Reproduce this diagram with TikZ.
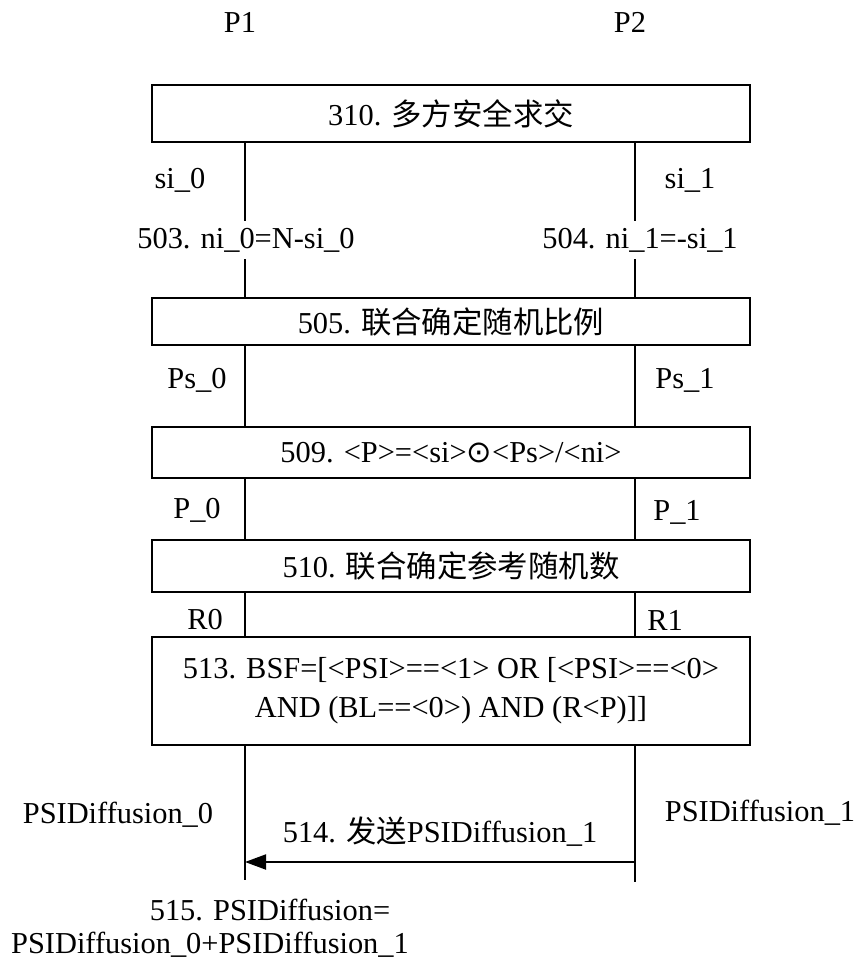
\documentclass[tikz,border=0pt]{standalone}
\usepackage{fontspec}
\setmainfont{Liberation Serif}
\newfontfamily\cjk{Noto Sans CJK SC}
\newfontfamily\symf{DejaVu Sans}
\usetikzlibrary{arrows.meta, positioning}

\begin{document}
\begin{tikzpicture}[x=0.02cm, y=-0.02cm, font=\fontsize{17.3}{22}\selectfont]
    % styles
    \tikzstyle{stepbox} = [rectangle, draw=black, line width=1.3pt, minimum width=11.96cm, text centered, inner sep=0pt]
    \tikzstyle{lifeline} = [line width=1.1pt]
    \tikzstyle{lbl} = [inner sep=2pt]
    \tikzstyle{msg} = [line width=1.1pt, -{Triangle[length=0.42cm, width=0.3cm]}]

    \useasboundingbox (0,0) rectangle (866,969);

    % parties
    \node (p1) [lbl] at (240,22) {P1};
    \node (p2) [lbl] at (630,22) {P2};
    \coordinate (xl) at (245,0);
    \coordinate (xr) at (635,0);

    % boxes
    \node (b310) [stepbox, minimum height=1.14cm] at (451,113.5) {310. {\cjk 多方安全求交}};
    \node (b505) [stepbox, minimum height=0.94cm] at (451,321.5) {505. {\cjk 联合确定随机比例}};
    \node (b509) [stepbox, minimum height=1.02cm] at (451,452.5) {509. <P>=<si>{\symf ⊙}<Ps>/<ni>};
    \node (b510) [stepbox, minimum height=1.04cm] at (451,566) {510. {\cjk 联合确定参考随机数}};
    \node (b513) [stepbox, minimum height=2.16cm, align=center] at (451,691) {513. BSF=[<PSI>==<1> OR [<PSI>==<0>\\AND (BL==<0>) AND (R<P)]]};

    % labels
    \node (si0) [lbl] at (180,180) {si\_0};
    \node (si1) [lbl] at (690,180) {si\_1};
    \node (n503) [lbl, inner sep=4pt] at (246,240) {503. ni\_0=N-si\_0};
    \node (n504) [lbl, inner sep=4pt] at (640,240) {504. ni\_1=-si\_1};
    \node (ps0) [lbl] at (197,380) {Ps\_0};
    \node (ps1) [lbl] at (685,380) {Ps\_1};
    \node (pp0) [lbl] at (197,510) {P\_0};
    \node (pp1) [lbl] at (677,512) {P\_1};
    \node (r0) [lbl] at (205,620) {R0};
    \node (r1) [lbl] at (665,620) {R1};
    \node (d0) [lbl] at (118,815) {PSIDiffusion\_0};
    \node (d1) [lbl] at (760,813) {PSIDiffusion\_1};
    \node (n515a) [lbl] at (270,910) {515. PSIDiffusion=};
    \node (n515b) [lbl] at (210,945) {PSIDiffusion\_0+PSIDiffusion\_1};

    % lifelines
    \draw [lifeline] (b310.south -| xl) -- (n503.north -| xl);
    \draw [lifeline] (n503.south -| xl) -- (b505.north -| xl);
    \draw [lifeline] (b310.south -| xr) -- (n504.north -| xr);
    \draw [lifeline] (n504.south -| xr) -- (b505.north -| xr);
    \draw [lifeline] (b505.south -| xl) -- (b509.north -| xl);
    \draw [lifeline] (b505.south -| xr) -- (b509.north -| xr);
    \draw [lifeline] (b509.south -| xl) -- (b510.north -| xl);
    \draw [lifeline] (b509.south -| xr) -- (b510.north -| xr);
    \draw [lifeline] (b510.south -| xl) -- (b513.north -| xl);
    \draw [lifeline] (b510.south -| xr) -- (b513.north -| xr);
    \coordinate (endl) at (245,880);
    \coordinate (endr) at (635,882);
    \draw [lifeline] (b513.south -| xl) -- (endl);
    \draw [lifeline] (b513.south -| xr) -- (endr);

    % message
    \coordinate (m1) at (635,862);
    \coordinate (m0) at (245,862);
    \draw [msg] (m1) -- (m0) node[midway, above=5pt] {514. {\cjk 发送}PSIDiffusion\_1};

\end{tikzpicture}
\end{document}
